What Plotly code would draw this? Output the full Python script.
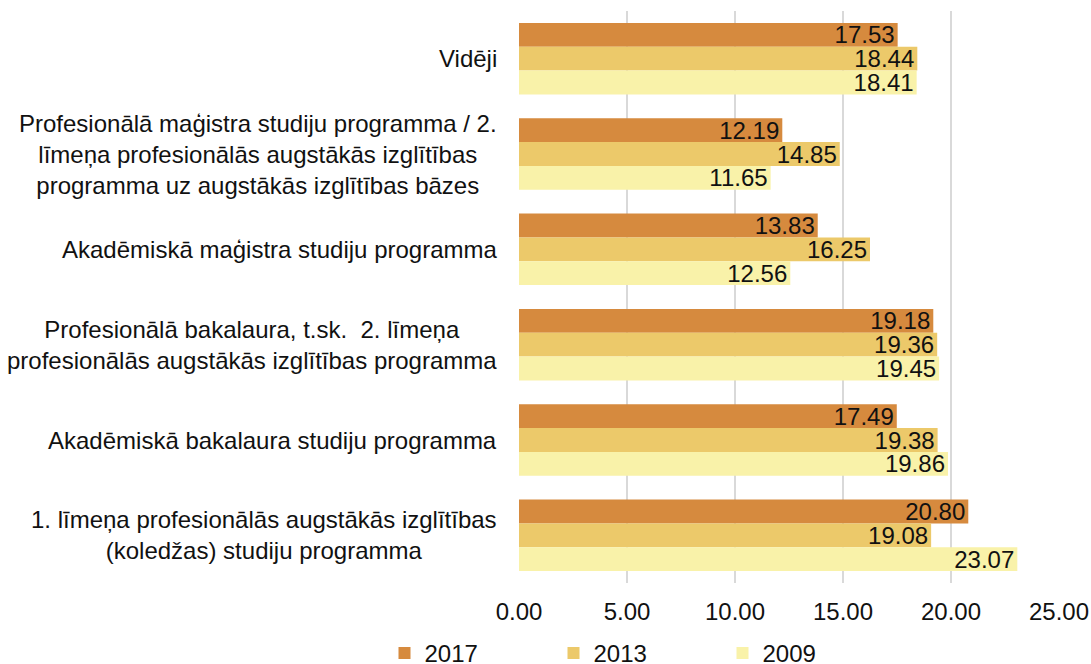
import plotly.graph_objects as go

categories = [
    "Vidēji",
    "Profesionālā maģistra studiju programma / 2.<br>līmeņa profesionālās augstākās izglītības<br>programma uz augstākās izglītības bāzes",
    "Akadēmiskā maģistra studiju programma",
    "Profesionālā bakalaura, t.sk.  2. līmeņa<br>profesionālās augstākās izglītības programma",
    "Akadēmiskā bakalaura studiju programma",
    "1. līmeņa profesionālās augstākās izglītības<br>(koledžas) studiju programma",
]
years = ["2017", "2013", "2009"]
values_2017 = [17.53, 12.19, 13.83, 19.18, 17.49, 20.80]
values_2013 = [18.44, 14.85, 16.25, 19.36, 19.38, 19.08]
values_2009 = [18.41, 11.65, 12.56, 19.45, 19.86, 23.07]
x_ticks = [0, 5, 10, 15, 20, 25]

series = [values_2017, values_2013, values_2009]
colors = ["#D68A3E", "#ECC96A", "#F9F2A9"]
FONT = "Arial, 'Liberation Sans', sans-serif"
TXT = "#111111"

W, H = 1091, 664

fig = go.Figure()
for name, vals, col in zip(years, series, colors):
    fig.add_trace(go.Bar(
        y=categories, x=vals, name=name, orientation="h",
        marker=dict(color=col, line=dict(width=0)),
        texttemplate="%{x:.2f}", textposition="inside",
        insidetextanchor="end", constraintext="none",
        textfont=dict(family=FONT, size=24, color=TXT),
        hoverinfo="x+name",
    ))

for c in categories:
    fig.add_annotation(
        x=0, xref="paper", y=c, yref="y", xanchor="right", yanchor="middle",
        xshift=-20, text=c, showarrow=False, align="center",
        font=dict(family=FONT, size=24, color=TXT),
    )

fig.update_layout(
    width=W, height=H,
    margin=dict(l=519, r=32, t=11, b=81),
    paper_bgcolor="white", plot_bgcolor="white",
    barmode="group", bargap=0.25, bargroupgap=0,
    font=dict(family=FONT, size=24, color=TXT),
    showlegend=True,
    legend=dict(orientation="h", xref="container", yref="container",
                x=384.5 / W, xanchor="left", y=10.5 / H, yanchor="middle",
                font=dict(family=FONT, size=24, color=TXT),
                entrywidth=124, traceorder="normal", itemwidth=30),
    xaxis=dict(range=[0, 25], tickvals=x_ticks, tickformat=".2f",
               showgrid=True, gridcolor="#D9D9D9", gridwidth=2,
               zeroline=False, showline=False, ticks="", automargin=False,
               ticklabelstandoff=12,
               tickfont=dict(family=FONT, size=24, color=TXT)),
    yaxis=dict(autorange="reversed", showticklabels=False, showgrid=False,
               zeroline=False, showline=False, ticks="", automargin=False),
)

fig.write_html(
    "out.html",
    config={"displayModeBar": False},
    post_script="document.body.style.margin='0';document.body.style.overflow='hidden';",
)
